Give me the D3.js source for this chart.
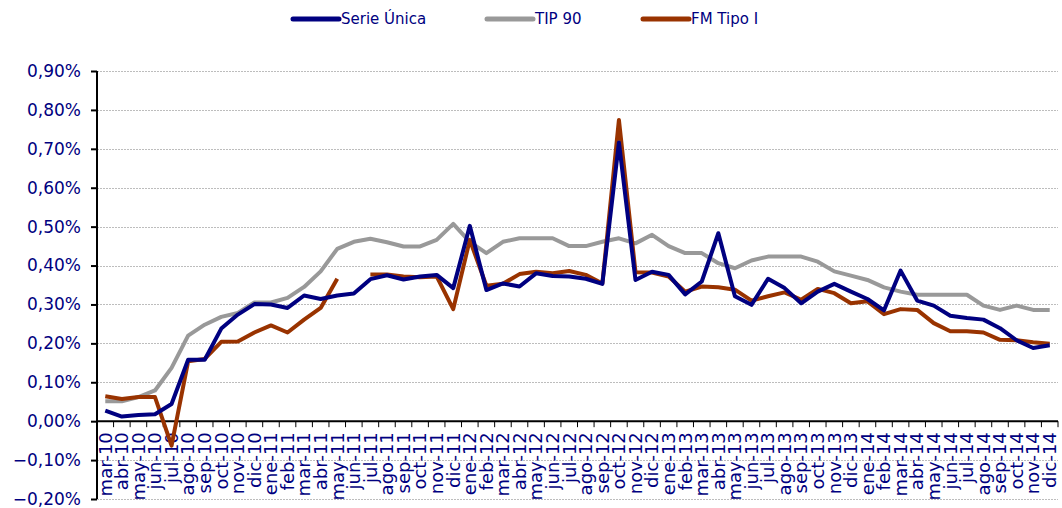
<!DOCTYPE html>
<html><head><meta charset="utf-8">
<script src="https://cdn.jsdelivr.net/npm/d3@7"></script>
<style>body{margin:0;background:#fff}svg{display:block}text{font-family:"DejaVu Sans",Verdana,sans-serif;fill:#000080}</style>
</head><body><svg id="c" width="1062" height="508"></svg>
<script>
const categories = ["mar-10","abr-10","may-10","jun-10","jul-10","ago-10","sep-10","oct-10","nov-10","dic-10",
"ene-11","feb-11","mar-11","abr-11","may-11","jun-11","jul-11","ago-11","sep-11","oct-11","nov-11","dic-11",
"ene-12","feb-12","mar-12","abr-12","may-12","jun-12","jul-12","ago-12","sep-12","oct-12","nov-12","dic-12",
"ene-13","feb-13","mar-13","abr-13","may-13","jun-13","jul-13","ago-13","sep-13","oct-13","nov-13","dic-13",
"ene-14","feb-14","mar-14","abr-14","may-14","jun-14","jul-14","ago-14","sep-14","oct-14","nov-14","dic-14"];
const serieUnica = [0.027,0.012,0.016,0.018,0.044,0.158,0.158,0.238,0.274,0.301,
0.300,0.291,0.323,0.314,0.323,0.328,0.365,0.375,0.364,0.372,0.376,0.342,
0.502,0.337,0.354,0.346,0.380,0.373,0.372,0.366,0.353,0.716,0.363,0.384,
0.376,0.326,0.359,0.483,0.321,0.299,0.366,0.342,0.303,0.333,0.353,0.333,
0.314,0.285,0.387,0.310,0.297,0.271,0.265,0.261,0.239,0.208,0.188,0.195];
const tip90 = [0.051,0.051,0.062,0.079,0.137,0.220,0.248,0.268,0.278,0.305,
0.305,0.317,0.345,0.385,0.443,0.461,0.469,0.460,0.449,0.449,0.466,0.507,
0.461,0.432,0.461,0.470,0.470,0.470,0.450,0.450,0.461,0.470,0.457,0.479,
0.450,0.432,0.432,0.406,0.393,0.413,0.423,0.423,0.423,0.410,0.385,0.374,
0.363,0.344,0.333,0.325,0.325,0.325,0.325,0.297,0.286,0.297,0.286,0.286];
const fmTipoI = [0.064,0.057,0.062,0.062,-0.063,0.154,0.160,0.204,0.205,0.228,
0.246,0.228,0.261,0.291,0.366,null,0.377,0.377,0.372,0.370,0.372,0.288,
0.466,0.348,0.353,0.378,0.384,0.380,0.386,0.376,0.354,0.774,0.383,0.382,
0.372,0.333,0.346,0.344,0.338,0.310,0.321,0.331,0.312,0.340,0.329,0.303,
0.308,0.275,0.288,0.286,0.252,0.231,0.231,0.228,0.209,0.208,0.203,0.199];
const yTicks = [-0.2,-0.1,0,0.1,0.2,0.3,0.4,0.5,0.6,0.7,0.8,0.9];
const seriesNames = ["Serie Única","TIP 90","FM Tipo I"];
const seriesColors = ["#000080","#999999","#993300"];

const svg = d3.select("#c");
const L = 97, R = 1058, T = 71, B = 499;
const x = d3.scaleBand().domain(categories).range([L, R]);
const y = d3.scaleLinear().domain([-0.2, 0.9]).range([B, T]);

// gridlines
svg.append("g").selectAll("line").data(yTicks).join("line")
  .attr("x1", L).attr("x2", R).attr("y1", d => Math.round(y(d)) + 0.5).attr("y2", d => Math.round(y(d)) + 0.5)
  .attr("stroke", "#bdbdbd").attr("stroke-width", 1).attr("stroke-dasharray", "2,1");

// y axis
const fmt = d => d3.format(".2f")(d).replace(".", ",") + "%";
const ya = svg.append("g").attr("transform", `translate(${L},0)`)
  .call(d3.axisLeft(y).tickValues(yTicks).tickSize(6).tickPadding(10).tickFormat(fmt));
ya.select(".domain").attr("stroke", "#000").attr("stroke-width", 2).attr("d", `M0,${T}V${B}`);
ya.selectAll(".tick line").attr("stroke", "#000").attr("stroke-width", 2);
ya.selectAll(".tick text").attr("font-size", 17).attr("fill", "#000080")
  .attr("font-family", "'DejaVu Sans',Verdana,sans-serif");

// x axis at zero
const y0 = y(0);
const xg = svg.append("g");
xg.append("line").attr("x1", L).attr("x2", R).attr("y1", y0).attr("y2", y0).attr("stroke", "#000").attr("stroke-width", 2);
xg.selectAll("line.t").data(categories.slice(1).concat(["__end"])).join("line").attr("class", "t")
  .attr("x1", (d, i) => x(categories[i]) + x.bandwidth()).attr("x2", (d, i) => x(categories[i]) + x.bandwidth())
  .attr("y1", y0).attr("y2", y0 + 6).attr("stroke", "#000").attr("stroke-width", 1);
xg.selectAll("text").data(categories).join("text")
  .attr("transform", d => `translate(${x(d) + x.bandwidth() / 2},${y0 + 11}) rotate(-90)`)
  .attr("text-anchor", "end").attr("dy", "0.35em").attr("font-size", 18).text(d => d);

// lines
const allSeries = [serieUnica, tip90, fmTipoI];
const line = d3.line().defined(d => d != null)
  .x((d, i) => x(categories[i]) + x.bandwidth() / 2).y(d => y(d));
[1, 2, 0].forEach(k => {
  svg.append("path").datum(allSeries[k]).attr("d", line)
    .attr("fill", "none").attr("stroke", seriesColors[k]).attr("stroke-width", 4)
    .attr("stroke-linejoin", "round");
});
// redraw navy under brown order: navy first then gray? keep brown on top
// legend
const legX = [293, 487, 643];
seriesNames.forEach((n, k) => {
  const g = svg.append("g").attr("transform", `translate(${legX[k]},19)`);
  g.append("line").attr("x1", 0).attr("x2", 46).attr("y1", 0).attr("y2", 0)
    .attr("stroke", seriesColors[k]).attr("stroke-width", 5).attr("stroke-linecap", "round");
  g.append("text").attr("x", 48).attr("y", 0).attr("dy", "0.35em").attr("font-size", 15).text(n);
});
</script></body></html>
